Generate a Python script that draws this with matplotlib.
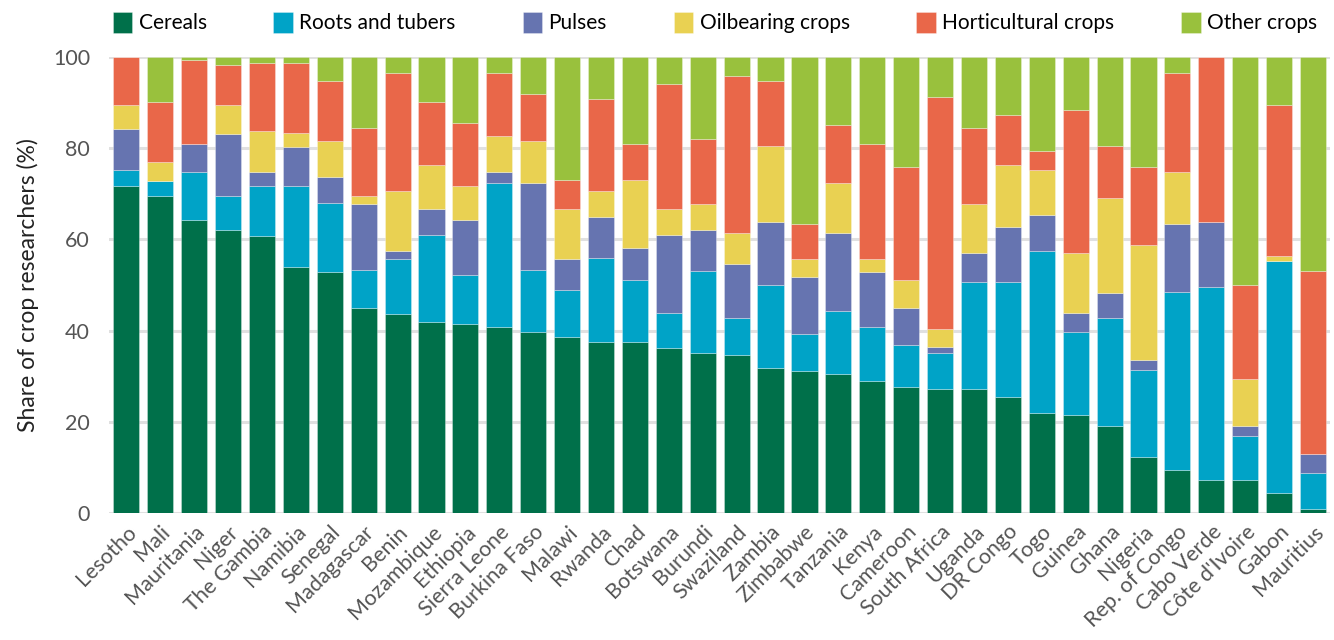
import matplotlib
matplotlib.use("Agg")
import matplotlib.pyplot as plt
import numpy as np

plt.rcParams['font.family'] = ['Lato', 'DejaVu Sans']

countries = ["Lesotho", "Mali", "Mauritania", "Niger", "The Gambia", "Namibia", "Senegal",
             "Madagascar", "Benin", "Mozambique", "Ethiopia", "Sierra Leone", "Burkina Faso",
             "Malawi", "Rwanda", "Chad", "Botswana", "Burundi", "Swaziland", "Zambia",
             "Zimbabwe", "Tanzania", "Kenya", "Cameroon", "South Africa", "Uganda", "DR Congo",
             "Togo", "Guinea", "Ghana", "Nigeria", "Rep. of Congo", "Cabo Verde",
             "Côte d'Ivoire", "Gabon", "Mauritius"]

cereals = [71.8, 69.5, 64.3, 62.1, 60.8, 54.0, 52.9, 44.9, 43.7, 42.0, 41.5, 40.8, 39.8,
           38.7, 37.5, 37.5, 36.3, 35.2, 34.7, 31.8, 31.2, 30.6, 28.9, 27.7, 27.2, 27.2, 25.5,
           22.0, 21.5, 19.2, 12.4, 9.5, 7.2, 7.2, 4.4, 1.0]
roots = [3.5, 3.4, 10.4, 7.4, 11.0, 17.8, 15.0, 8.5, 12.1, 18.9, 10.8, 31.5, 13.6,
         10.3, 18.4, 13.7, 7.5, 17.8, 8.0, 18.3, 8.0, 13.8, 12.0, 9.2, 8.0, 23.5, 25.2,
         35.5, 18.3, 23.5, 18.9, 38.9, 42.3, 9.8, 50.8, 7.9]
pulses = [9.0, 0.0, 6.2, 13.7, 2.9, 8.5, 5.7, 14.4, 1.7, 5.7, 12.0, 2.4, 18.9,
          6.7, 9.0, 6.9, 17.1, 9.1, 12.0, 13.7, 12.6, 17.1, 12.0, 8.0, 1.2, 6.3, 12.0,
          7.9, 4.0, 5.6, 2.2, 14.9, 14.3, 2.2, 0.0, 4.1]
oil = [5.2, 4.0, 0.0, 6.3, 9.1, 3.0, 8.0, 1.8, 13.1, 9.8, 7.5, 8.0, 9.3,
       11.0, 5.7, 14.9, 5.8, 5.7, 6.8, 16.6, 4.0, 10.9, 2.9, 6.3, 4.0, 10.8, 13.7,
       9.9, 13.2, 20.7, 25.2, 11.4, 0.0, 10.3, 1.2, 0.0]
horti = [10.5, 13.2, 18.4, 8.7, 14.9, 15.4, 13.1, 14.8, 25.8, 13.7, 13.7, 13.7, 10.3,
         6.3, 20.1, 7.9, 27.4, 14.3, 34.3, 14.3, 7.5, 12.6, 25.1, 24.6, 50.8, 16.6, 10.8,
         4.0, 31.4, 11.4, 17.1, 21.7, 36.2, 20.6, 33.1, 40.0]
other = [0.0, 9.9, 0.7, 1.8, 1.3, 1.3, 5.3, 15.6, 3.6, 9.9, 14.5, 3.6, 8.1,
         27.0, 9.3, 19.1, 5.9, 17.9, 4.2, 5.3, 36.7, 15.0, 19.1, 24.2, 8.8, 15.6, 12.8,
         20.7, 11.6, 19.6, 24.2, 3.6, 0.0, 49.9, 10.5, 47.0]

series = [("Cereals", cereals, "#00704a"),
          ("Roots and tubers", roots, "#00a3c7"),
          ("Pulses", pulses, "#6674b0"),
          ("Oilbearing crops", oil, "#e9d152"),
          ("Horticultural crops", horti, "#e96749"),
          ("Other crops", other, "#99c13d")]

fig = plt.figure(figsize=(13.34, 6.4), dpi=100)
ax = fig.add_axes([0.082, 0.198, 0.915, 0.713])

x = np.arange(len(countries))
bottom = np.zeros(len(countries))
for name, vals, col in series:
    vals = np.array(vals)
    ax.bar(x, vals, 0.77, bottom=bottom, color=col, label=name,
           edgecolor=(1, 1, 1, 0.35), linewidth=0.6, zorder=3)
    bottom += vals

ax.set_ylim(0, 100)
ax.set_xlim(-0.5, len(countries) - 0.5)
ax.set_yticks([0, 20, 40, 60, 80, 100])
ax.yaxis.grid(True, color='#e0e0e0', linewidth=2.2, zorder=0)
for s in ax.spines.values():
    s.set_visible(False)
ax.tick_params(axis='both', length=0, labelcolor='#555555')
ax.tick_params(axis='y', pad=14, labelsize=15.5)
ax.tick_params(axis='x', pad=6, labelsize=15.5)
ax.set_xticks(x)
ax.set_xticklabels(countries, rotation=45, ha='right', rotation_mode='anchor')
ax.set_ylabel("Share of crop researchers (%)", fontsize=16.5, color='#222222', labelpad=10)

fig.legend(loc='center', bbox_to_anchor=(0.536, 0.965), ncol=6, frameon=False,
           fontsize=15, handlelength=0.95, handleheight=1.2, handletextpad=0.3,
           columnspacing=3.2)

fig.savefig("out.png", dpi=100)
